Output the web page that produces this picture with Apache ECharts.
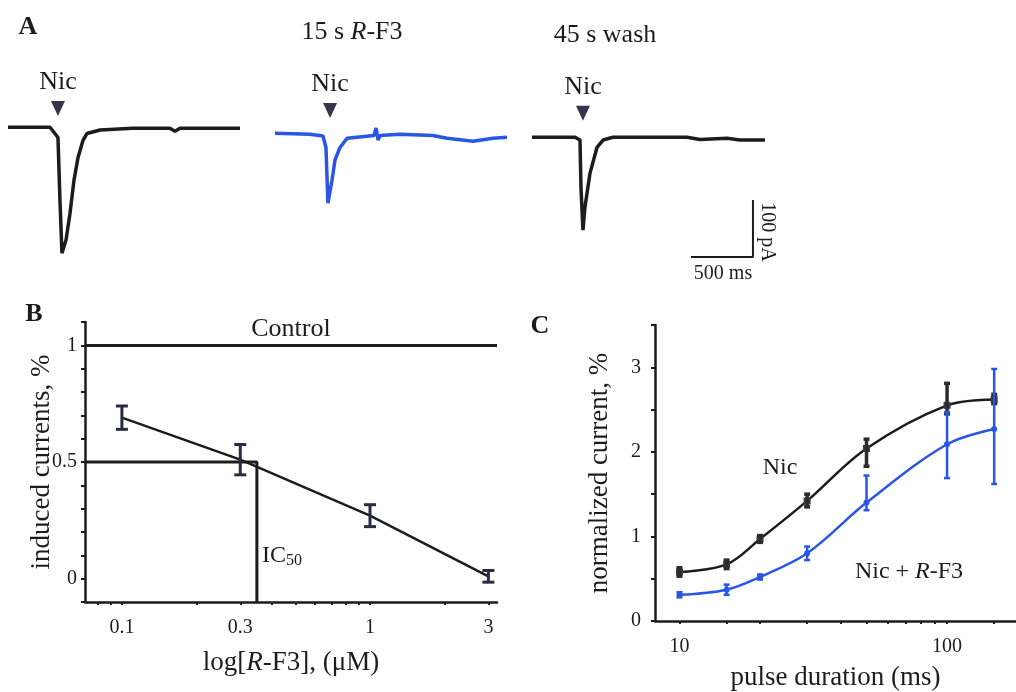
<!DOCTYPE html>
<html lang="en">
<head>
<meta charset="utf-8">
<title>R-F3 nicotinic currents</title>
<script src="https://cdn.jsdelivr.net/npm/echarts@6/dist/echarts.min.js"></script>
<style>
  html, body { margin: 0; padding: 0; background: #fff; }
</style>
</head>
<body>
<div id="main" style="width:1016px;height:692px;"></div>
<script>
// ---- panel A: traces, time (ms) from start of each sweep, current (pA) from baseline
var trace1T = [0, 339, 403, 419, 435, 468, 500, 532, 565, 605, 637, 742, 1008, 1306, 1347, 1387, 1871];
var trace1I = [0, 0, -18, -128, -221, -198, -151, -93, -53, -23, -11, -5, -2, -2, -7, -2, -2];
var trace2T = [0, 282, 387, 411, 427, 460, 484, 524, 581, 661, 798, 815, 831, 847, 1008, 1274, 1387, 1597, 1758, 1871];
var trace2I = [0, -2, -5, -25, -123, -82, -47, -25, -9, -7, -4, 9, -12, -4, -2, -4, -9, -14, -9, -7];
var trace3T = [0, 347, 387, 395, 411, 427, 468, 524, 573, 653, 1250, 1355, 1573, 1677, 1879];
var trace3I = [0, 0, -5, -88, -163, -123, -63, -18, -5, 0, 0, -4, -2, -5, -5];
var nicTime = [403, 444, 411];
var nicMark = [33, 40, 42];
var scaleBarT = [1282, 1782, 1782];
var scaleBarI = [-210, -210, -110];

// ---- panel B: concentration-response
var bConc = [0.1, 0.3, 1, 3];
var bMean = [0.69, 0.51, 0.27, 0.01];
var bErr = [0.05, 0.065, 0.047, 0.025];
var controlLevel = 1;
var ic50 = 0.35;
var bXTicks = [0.08, 0.09, 0.1, 0.2, 0.3, 0.4, 0.5, 0.6, 0.7, 0.8, 0.9, 1, 2, 3];
var bXLabels = [0.1, 0.3, 1, 3];
var bYTicks = [-0.1, 0, 0.1, 0.2, 0.3, 0.4, 0.5, 0.6, 0.7, 0.8, 0.9, 1, 1.1];
var bYLabels = [0, 0.5, 1];

// ---- panel C: pulse duration dependence
var duration = [10, 15, 20, 30, 50, 100, 150];
var nicMean = [0.58, 0.67, 0.97, 1.42, 2.04, 2.55, 2.62];
var nicLow = [0.53, 0.62, 0.93, 1.35, 1.83, 2.45, 2.57];
var nicHigh = [0.63, 0.72, 1.01, 1.50, 2.15, 2.81, 2.68];
var rf3Mean = [0.31, 0.37, 0.52, 0.80, 1.40, 2.09, 2.27];
var rf3Low = [0.28, 0.31, 0.49, 0.72, 1.31, 1.69, 1.62];
var rf3High = [0.34, 0.43, 0.55, 0.88, 1.72, 2.47, 2.98];
var cXTicks = [10, 15, 20, 30, 40, 50, 60, 70, 80, 90, 100, 150];
var cXLabels = [10, 100];
var cYTicks = [0, 0.5, 1, 1.5, 2, 2.5, 3, 3.5];
var cYLabels = [0, 1, 2, 3];

var SERIF = '"Liberation Serif", "DejaVu Serif", serif';
var INK = '#1c1c1c';
var BLUE = '#2a56e8';

function pairs(xs, ys) {
    var res = [];
    for (var i = 0; i < xs.length; i++) res.push([xs[i], ys[i]]);
    return res;
}
function triples(xs, lo, hi) {
    var res = [];
    for (var i = 0; i < xs.length; i++) res.push([xs[i], lo[i], hi[i]]);
    return res;
}
function fmt(v) { return String(+(+v).toPrecision(3)); }

// error bar drawn as an "I"
function errorBar(color, width, cap) {
    return function (params, api) {
        var top = api.coord([api.value(0), api.value(2)]);
        var bot = api.coord([api.value(0), api.value(1)]);
        var st = { stroke: color, lineWidth: width };
        return {
            type: 'group',
            children: [
                { type: 'line', shape: { x1: top[0], y1: top[1], x2: bot[0], y2: bot[1] }, style: st },
                { type: 'line', shape: { x1: top[0] - cap, y1: top[1], x2: top[0] + cap, y2: top[1] }, style: st },
                { type: 'line', shape: { x1: bot[0] - cap, y1: bot[1], x2: bot[0] + cap, y2: bot[1] }, style: st }
            ]
        };
    };
}

var myChart = echarts.init(document.getElementById('main'), null, { renderer: 'canvas' });

var hiddenX = { type: 'value', min: 0, max: 1900, show: false };
var hiddenY = { type: 'value', min: -250, max: 60, show: false };
var axisLineStyle = { show: true, onZero: false, lineStyle: { color: INK, width: 2.5 } };
var tickStyle = { show: true, length: 4, lineStyle: { color: INK, width: 2 } };
var labelFont = { fontFamily: SERIF, fontSize: 20, color: INK };
var nameFont = { fontFamily: SERIF, fontSize: 27, color: INK, rich: { i: { fontFamily: SERIF, fontSize: 27, fontStyle: 'italic', color: INK } } };

var option = {
    animation: false,
    backgroundColor: '#fff',
    grid: [
        { left: 8, top: 93, width: 235.6, height: 176.7 },
        { left: 275, top: 99, width: 235.6, height: 176.7 },
        { left: 532, top: 103, width: 235.6, height: 176.7 },
        { left: 85, top: 322, width: 412, height: 280 },
        { left: 655, top: 325, width: 361, height: 300 }
    ],
    xAxis: [
        Object.assign({ gridIndex: 0 }, hiddenX),
        Object.assign({ gridIndex: 1 }, hiddenX),
        Object.assign({ gridIndex: 2 }, hiddenX),
        {
            gridIndex: 3, type: 'log', min: 0.071, max: 3.25,
            axisLine: axisLineStyle,
            axisTick: Object.assign({ customValues: bXTicks }, tickStyle, { length: 3 }),
            axisLabel: Object.assign({ customValues: bXLabels, margin: 16, formatter: fmt }, labelFont),
            splitLine: { show: false }, minorTick: { show: false },
            name: 'log[{i|R}-F3], (\u03bcM)', nameLocation: 'middle', nameGap: 47, nameMoveOverlap: false,
            nameTextStyle: nameFont
        },
        {
            gridIndex: 4, type: 'log', min: 8.1, max: 181,
            axisLine: axisLineStyle,
            axisTick: Object.assign({ customValues: cXTicks }, tickStyle, { length: 3 }),
            axisLabel: Object.assign({ customValues: cXLabels, margin: 16, formatter: fmt }, labelFont),
            splitLine: { show: false }, minorTick: { show: false },
            name: 'pulse duration (ms)', nameLocation: 'middle', nameGap: 43, nameMoveOverlap: false,
            nameTextStyle: nameFont
        }
    ],
    yAxis: [
        Object.assign({ gridIndex: 0 }, hiddenY),
        Object.assign({ gridIndex: 1 }, hiddenY),
        Object.assign({ gridIndex: 2 }, hiddenY),
        {
            gridIndex: 3, type: 'value', min: -0.1, max: 1.1,
            axisLine: axisLineStyle,
            axisTick: Object.assign({ customValues: bYTicks }, tickStyle),
            axisLabel: Object.assign({ customValues: bYLabels, margin: 8, formatter: fmt }, labelFont),
            splitLine: { show: false },
            name: 'induced currents, %', nameLocation: 'middle', nameGap: 30, nameMoveOverlap: false,
            nameTextStyle: nameFont
        },
        {
            gridIndex: 4, type: 'value', min: 0, max: 3.5,
            axisLine: axisLineStyle,
            axisTick: Object.assign({ customValues: cYTicks }, tickStyle),
            axisLabel: Object.assign({ customValues: cYLabels, margin: 14, formatter: fmt }, labelFont),
            splitLine: { show: false },
            name: 'normalized current, %', nameLocation: 'middle', nameGap: 42, nameMoveOverlap: false,
            nameTextStyle: nameFont
        }
    ],
    series: [
        // panel A traces
        { type: 'line', xAxisIndex: 0, yAxisIndex: 0, data: pairs(trace1T, trace1I), showSymbol: false,
          lineStyle: { color: INK, width: 3.5 } },
        { type: 'line', xAxisIndex: 1, yAxisIndex: 1, data: pairs(trace2T, trace2I), showSymbol: false,
          lineStyle: { color: BLUE, width: 3.5 } },
        { type: 'line', xAxisIndex: 2, yAxisIndex: 2, data: pairs(trace3T, trace3I), showSymbol: false,
          lineStyle: { color: INK, width: 3.5 } },
        { type: 'line', xAxisIndex: 2, yAxisIndex: 2, data: pairs(scaleBarT, scaleBarI), showSymbol: false,
          lineStyle: { color: INK, width: 2 } },
        // Nic application arrows
        [0, 1, 2].map(function (k) {
            return {
                type: 'scatter', xAxisIndex: k, yAxisIndex: k,
                data: [[nicTime[k], nicMark[k]]],
                symbol: 'triangle', symbolRotate: 180, symbolSize: [14, 15],
                itemStyle: { color: '#34344a', opacity: 1 },
                label: { show: true, position: 'top', distance: 6, formatter: 'Nic',
                         fontFamily: SERIF, fontSize: 26, color: INK, opacity: 1 }
            };
        }),
        // panel B
        { type: 'line', xAxisIndex: 3, yAxisIndex: 3, data: pairs(bConc, bMean), showSymbol: false,
          lineStyle: { color: INK, width: 2.5 },
          markLine: {
              silent: true, symbol: 'none', data: [{ yAxis: controlLevel }],
              lineStyle: { color: INK, width: 3, type: 'solid' },
              label: { show: true, position: 'insideMiddleTop', formatter: 'Control', distance: 3,
                       fontFamily: SERIF, fontSize: 26, color: INK }
          } },
        { type: 'line', xAxisIndex: 3, yAxisIndex: 3, data: [[0.071, 0.5], [ic50, 0.5], [ic50, -0.1]],
          showSymbol: false, lineStyle: { color: INK, width: 3 } },
        { type: 'scatter', xAxisIndex: 3, yAxisIndex: 3, data: [[ic50, 0.1]], symbolSize: 0,
          itemStyle: { opacity: 1 },
          label: { show: true, position: 'right', distance: 5, formatter: 'IC{s|50}',
                   fontFamily: SERIF, fontSize: 24, color: INK, opacity: 1,
                   rich: { s: { fontFamily: SERIF, fontSize: 16, color: INK, verticalAlign: 'bottom', padding: [10, 0, 0, 0] } } } },
        { type: 'custom', xAxisIndex: 3, yAxisIndex: 3, z: 5,
          data: bConc.map(function (c, i) { return [c, bMean[i] - bErr[i], bMean[i] + bErr[i]]; }),
          renderItem: errorBar('#2a2a44', 3, 6) },
        // panel C
        { type: 'line', xAxisIndex: 4, yAxisIndex: 4, data: pairs(duration, nicMean), smooth: 0.35,
          symbol: 'rect', symbolSize: 7, itemStyle: { color: '#3a3a4a' },
          lineStyle: { color: INK, width: 2.5 } },
        { type: 'line', xAxisIndex: 4, yAxisIndex: 4, data: pairs(duration, rf3Mean), smooth: 0.35,
          symbol: 'circle', symbolSize: 6, itemStyle: { color: BLUE },
          lineStyle: { color: BLUE, width: 2.5 } },
        { type: 'custom', xAxisIndex: 4, yAxisIndex: 4, z: 5, data: triples(duration, nicLow, nicHigh),
          renderItem: errorBar('#2b2b2b', 3.5, 3) },
        { type: 'custom', xAxisIndex: 4, yAxisIndex: 4, z: 5, data: triples(duration, rf3Low, rf3High),
          renderItem: errorBar(BLUE, 2.5, 3) }
    ],
    graphic: [
        { type: 'text', x: 28, y: 27, style: { text: 'A', font: 'bold 26px ' + SERIF, fill: INK, align: 'center', verticalAlign: 'middle' } },
        { type: 'text', x: 352, y: 32, style: { text: '15 s {i|R}-F3', font: '26px ' + SERIF, fill: INK, align: 'center', verticalAlign: 'middle',
            rich: { i: { font: 'italic 26px ' + SERIF, fill: INK } } } },
        { type: 'text', x: 605, y: 35, style: { text: '45 s wash', font: '26px ' + SERIF, fill: INK, align: 'center', verticalAlign: 'middle' } },
        { type: 'text', x: 723, y: 274, style: { text: '500 ms', font: '20px ' + SERIF, fill: INK, align: 'center', verticalAlign: 'middle' } },
        { type: 'text', x: 767, y: 232, rotation: -Math.PI / 2, style: { text: '100 pA', font: '20px ' + SERIF, fill: INK, align: 'center', verticalAlign: 'middle' } },
        { type: 'text', x: 34, y: 314, style: { text: 'B', font: 'bold 26px ' + SERIF, fill: INK, align: 'center', verticalAlign: 'middle' } },
        { type: 'text', x: 540, y: 326, style: { text: 'C', font: 'bold 26px ' + SERIF, fill: INK, align: 'center', verticalAlign: 'middle' } },
        { type: 'text', x: 780, y: 468, style: { text: 'Nic', font: '24px ' + SERIF, fill: INK, align: 'center', verticalAlign: 'middle' } },
        { type: 'text', x: 909, y: 572, style: { text: 'Nic + {i|R}-F3', font: '24px ' + SERIF, fill: INK, align: 'center', verticalAlign: 'middle',
            rich: { i: { font: 'italic 24px ' + SERIF, fill: INK } } } }
    ]
};

// flatten the Nic arrow series that were built as a sub-array
var flat = [];
option.series.forEach(function (s) { if (Array.isArray(s)) flat = flat.concat(s); else flat.push(s); });
option.series = flat;

myChart.setOption(option);
</script>
</body>
</html>
